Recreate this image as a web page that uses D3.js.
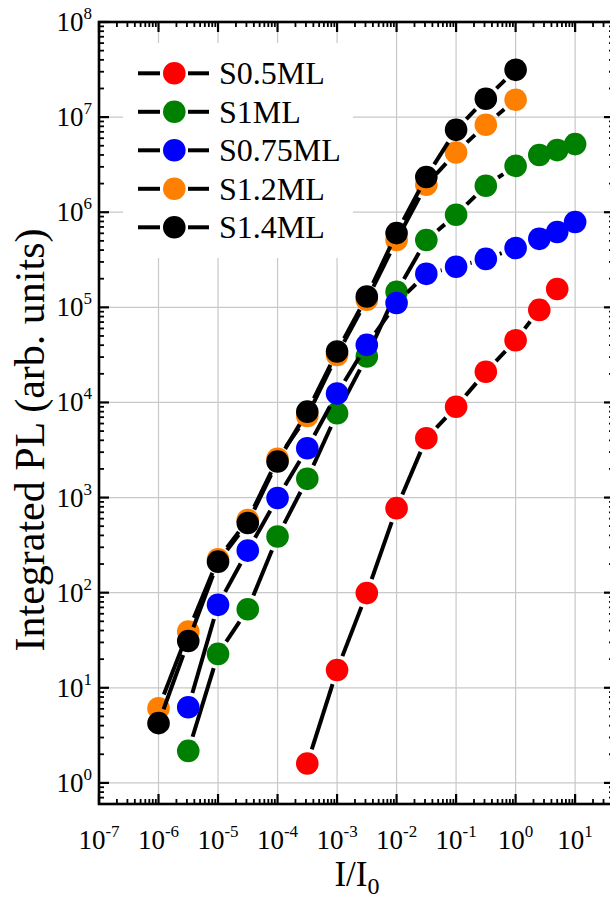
<!DOCTYPE html>
<html>
<head>
  <title>Integrated PL</title>
  <script src="https://d3js.org/d3.v7.min.js"></script>
  <style>
    body { margin: 0; background: #fff; }
    svg text { font-family: "Liberation Serif", "Times New Roman", serif; fill: #000; }
    .gridlines line { stroke: #c8c8c8; stroke-width: 1.2; }
  </style>
</head>
<body>
<div id="chart"></div>
<script>
  // series names + colours (legend order = draw order)
  const seriesNames = ["S0.5ML", "S1ML", "S0.75ML", "S1.2ML", "S1.4ML"];
  const seriesColors = ["#ff0000", "#008000", "#0000ff", "#ff8000", "#000000"];

  // I/I0 values
  const xRed = [3.16e-4, 1e-3, 3.16e-3, 1e-2, 3.16e-2, 0.1, 0.316, 1, 2.5, 5];
  const xGreenBlue = [3.16e-6, 1e-5, 3.16e-5, 1e-4, 3.16e-4, 1e-3, 3.16e-3, 1e-2, 3.16e-2, 0.1, 0.316, 1, 2.5, 5, 10];
  const xOrangeBlack = [1e-6, 3.16e-6, 1e-5, 3.16e-5, 1e-4, 3.16e-4, 1e-3, 3.16e-3, 1e-2, 3.16e-2, 0.1, 0.316, 1];

  // integrated PL values
  const yS05 = [1.6, 15.4, 99, 774, 4200, 9000, 21000, 45000, 94000, 156000];
  const yS1 = [2.17, 22.7, 67, 389, 1573, 7700, 30400, 146000, 510000, 940000, 1.9e6, 3.07e6, 4.0e6, 4.5e6, 5.2e6];
  const yS075 = [6.25, 74.5, 277, 990, 3300, 12400, 40300, 111000, 225000, 267000, 323000, 420000, 525000, 620000, 790000];
  const yS12 = [6.1, 39, 225, 580, 2560, 7200, 31600, 120000, 510000, 1.95e6, 4.25e6, 8.3e6, 1.52e7];
  const yS14 = [4.25, 31, 212, 540, 2390, 8000, 34300, 130000, 603000, 2.35e6, 7.35e6, 1.56e7, 3.14e7];

  // tick exponents
  const xTickExps = [-7, -6, -5, -4, -3, -2, -1, 0, 1];
  const yTickExps = [0, 1, 2, 3, 4, 5, 6, 7, 8];

  const seriesX = [xRed, xGreenBlue, xGreenBlue, xOrangeBlack, xOrangeBlack];
  const seriesY = [yS05, yS1, yS075, yS12, yS14];

  const width = 610;
  const height = 903;
  const plot = { left: 99, right: 614, top: 22, bottom: 804 };
  const r = 11.3;

  const svg = d3.select("#chart").append("svg")
    .attr("width", width)
    .attr("height", height);

  const xScale = d3.scaleLog().domain([1e-7, 45]).range([plot.left, plot.right]);
  const yScale = d3.scaleLog().domain([0.6, 1e8]).range([plot.bottom, plot.top]);

  const xMajor = xTickExps.map(e => Math.pow(10, e));
  const yMajor = yTickExps.map(e => Math.pow(10, e));

  // minor ticks 2..9 in each decade
  function minors(scale) {
    const [a, b] = scale.domain();
    const out = [];
    for (let e = Math.floor(Math.log10(a)); e <= Math.ceil(Math.log10(b)); e++) {
      for (let m = 2; m <= 9; m++) {
        const v = m * Math.pow(10, e);
        if (v >= a && v <= b) out.push(v);
      }
    }
    return out;
  }
  const xMinor = minors(xScale);
  const yMinor = minors(yScale);

  // gridlines
  const grid = svg.append("g").attr("class", "gridlines");
  grid.selectAll(".gx").data(xMajor).join("line")
    .attr("x1", d => xScale(d)).attr("x2", d => xScale(d))
    .attr("y1", plot.top).attr("y2", plot.bottom);
  grid.selectAll(".gy").data(yMajor).join("line")
    .attr("y1", d => yScale(d)).attr("y2", d => yScale(d))
    .attr("x1", plot.left).attr("x2", plot.right);

  // legend background hides gridlines
  svg.append("rect")
    .attr("x", 123).attr("y", 43).attr("width", 230).attr("height", 215)
    .attr("fill", "#fff");

  // frame ticks (inward on all sides)
  const ticks = svg.append("g").attr("stroke", "#000");
  function hTicks(vals, len, w) {
    vals.forEach(v => {
      const x = xScale(v);
      ticks.append("line").attr("x1", x).attr("x2", x)
        .attr("y1", plot.bottom).attr("y2", plot.bottom - len).attr("stroke-width", w);
      ticks.append("line").attr("x1", x).attr("x2", x)
        .attr("y1", plot.top).attr("y2", plot.top + len).attr("stroke-width", w);
    });
  }
  function vTicks(vals, len, w) {
    vals.forEach(v => {
      const y = yScale(v);
      ticks.append("line").attr("y1", y).attr("y2", y)
        .attr("x1", plot.left).attr("x2", plot.left + len).attr("stroke-width", w);
      ticks.append("line").attr("y1", y).attr("y2", y)
        .attr("x1", plot.right).attr("x2", plot.right - len).attr("stroke-width", w);
    });
  }
  hTicks(xMajor, 10, 2.2);
  hTicks(xMinor, 5, 1.8);
  vTicks(yMajor, 10, 2.2);
  vTicks(yMinor, 5, 1.8);

  svg.append("rect")
    .attr("x", plot.left).attr("y", plot.top)
    .attr("width", plot.right - plot.left).attr("height", plot.bottom - plot.top)
    .attr("fill", "none").attr("stroke", "#000").attr("stroke-width", 2.6);

  // tick labels 10^n
  xTickExps.forEach(e => {
    const t = svg.append("text")
      .attr("x", xScale(Math.pow(10, e)))
      .attr("y", 849)
      .attr("text-anchor", "middle")
      .attr("font-size", 27);
    t.append("tspan").text("10");
    t.append("tspan").attr("font-size", 17).attr("dy", -12).text(e);
  });
  yTickExps.forEach(e => {
    const t = svg.append("text")
      .attr("x", 92)
      .attr("y", yScale(Math.pow(10, e)) + 9)
      .attr("text-anchor", "end")
      .attr("font-size", 27);
    t.append("tspan").text("10");
    t.append("tspan").attr("font-size", 17).attr("dy", -12).text(e);
  });

  // axis titles
  const xt = svg.append("text")
    .attr("x", 357).attr("y", 886)
    .attr("text-anchor", "middle")
    .attr("font-size", 35);
  xt.append("tspan").text("I/I");
  xt.append("tspan").attr("font-size", 24).attr("dy", 8).text("0");

  svg.append("text")
    .attr("transform", "translate(44,440) rotate(-90)")
    .attr("text-anchor", "middle")
    .attr("font-size", 42)
    .text("Integrated PL (arb. units)");

  // line segments trimmed around symbols, like Origin's gap-to-symbol
  function segment(g, x1, y1, x2, y2, gap) {
    const dx = x2 - x1, dy = y2 - y1;
    const L = Math.sqrt(dx * dx + dy * dy);
    if (L <= 2 * gap) return;
    const ux = dx / L, uy = dy / L;
    g.append("line")
      .attr("x1", x1 + ux * gap).attr("y1", y1 + uy * gap)
      .attr("x2", x2 - ux * gap).attr("y2", y2 - uy * gap)
      .attr("stroke", "#000").attr("stroke-width", 4);
  }

  const dataLayer = svg.append("g");
  seriesNames.forEach((name, i) => {
    const g = dataLayer.append("g");
    const pts = seriesX[i].map((x, j) => [xScale(x), yScale(seriesY[i][j])]);
    for (let j = 0; j < pts.length - 1; j++) {
      segment(g, pts[j][0], pts[j][1], pts[j + 1][0], pts[j + 1][1], r + 3.5);
    }
    pts.forEach(p => {
      g.append("circle")
        .attr("cx", p[0]).attr("cy", p[1]).attr("r", r)
        .attr("fill", seriesColors[i]);
    });
  });

  // legend
  const legend = svg.append("g");
  seriesNames.forEach((name, i) => {
    const cy = 73.3 + i * 38.5;
    legend.append("line").attr("x1", 138).attr("x2", 160).attr("y1", cy).attr("y2", cy)
      .attr("stroke", "#000").attr("stroke-width", 4);
    legend.append("line").attr("x1", 188).attr("x2", 209).attr("y1", cy).attr("y2", cy)
      .attr("stroke", "#000").attr("stroke-width", 4);
    legend.append("circle").attr("cx", 174.3).attr("cy", cy).attr("r", r)
      .attr("fill", seriesColors[i]);
    legend.append("text").attr("x", 219).attr("y", cy + 11)
      .attr("font-size", 32).text(name);
  });
</script>
</body>
</html>
